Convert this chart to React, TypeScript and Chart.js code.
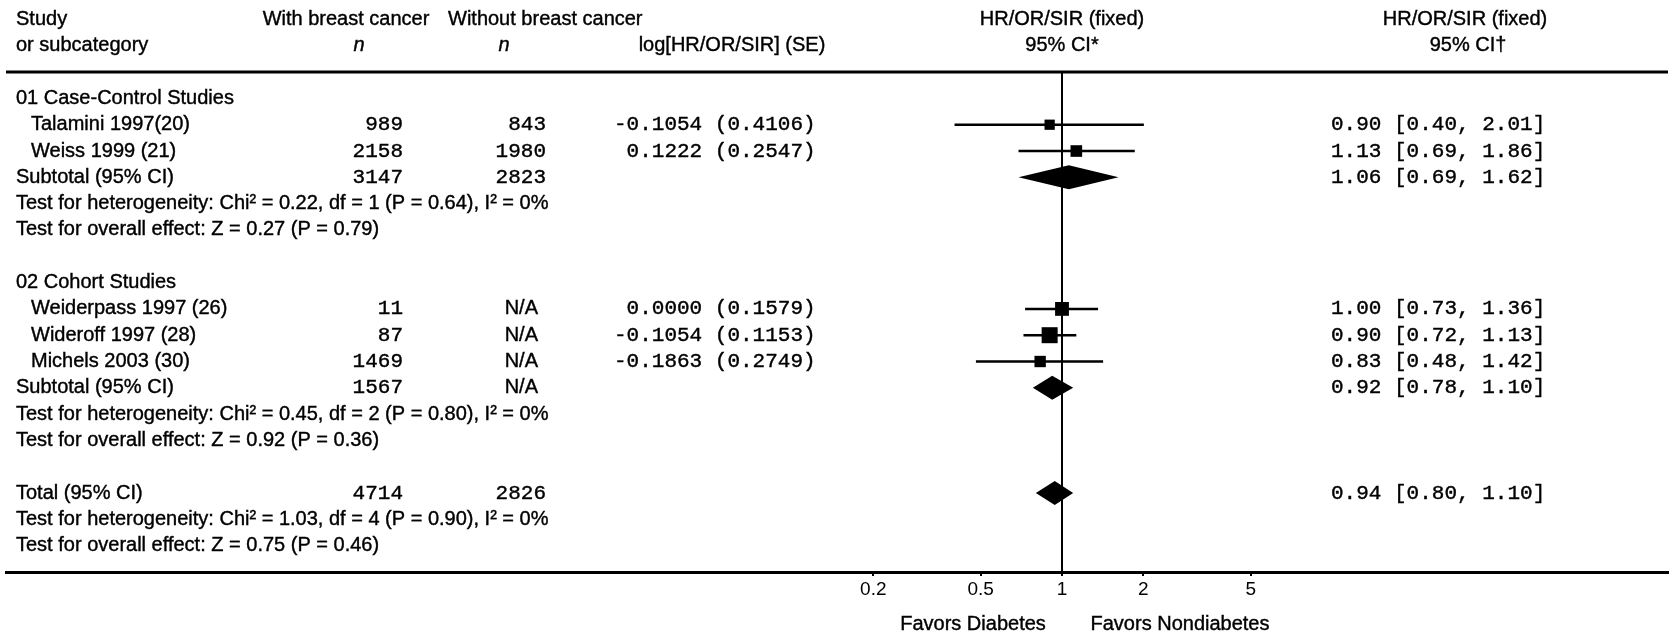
import { useEffect, useRef } from 'react';
import { Chart, registerables } from 'chart.js';

Chart.register(...registerables);

// ---------- data ----------
const studyNames = ['Talamini 1997(20)', 'Weiss 1999 (21)', 'Weiderpass 1997 (26)', 'Wideroff 1997 (28)', 'Michels 2003 (30)'];
const studyRows = [1, 2, 8, 9, 10];
const studyNWith = ['989', '2158', '11', '87', '1469'];
const studyNWithout = ['843', '1980', 'N/A', 'N/A', 'N/A'];
const studyLogEffect = [-0.1054, 0.1222, 0.0, -0.1054, -0.1863];
const studyLogSE = [0.4106, 0.2547, 0.1579, 0.1153, 0.2749];
const studyRatio = [0.9, 1.13, 1.0, 0.9, 0.83];
const studyLow = [0.4, 0.69, 0.73, 0.72, 0.48];
const studyHigh = [2.01, 1.86, 1.36, 1.13, 1.42];

const pooledLabels = ['Subtotal (95% CI)', 'Subtotal (95% CI)', 'Total (95% CI)'];
const pooledRows = [3, 11, 15];
const pooledNWith = ['3147', '1567', '4714'];
const pooledNWithout = ['2823', 'N/A', '2826'];
const pooledRatio = [1.06, 0.92, 0.94];
const pooledLow = [0.69, 0.78, 0.8];
const pooledHigh = [1.62, 1.1, 1.1];

const groupTitles = ['01 Case-Control Studies', '02 Cohort Studies'];
const groupRows = [0, 7];

const testLines = [
  'Test for heterogeneity: Chi\u00B2 = 0.22, df = 1 (P = 0.64), I\u00B2 = 0%',
  'Test for overall effect: Z = 0.27 (P = 0.79)',
  'Test for heterogeneity: Chi\u00B2 = 0.45, df = 2 (P = 0.80), I\u00B2 = 0%',
  'Test for overall effect: Z = 0.92 (P = 0.36)',
  'Test for heterogeneity: Chi\u00B2 = 1.03, df = 4 (P = 0.90), I\u00B2 = 0%',
  'Test for overall effect: Z = 0.75 (P = 0.46)',
];
const testRows = [4, 5, 12, 13, 16, 17];

const xTicks = [0.2, 0.5, 1, 2, 5];
const favorLabels = ['Favors Diabetes', 'Favors Nondiabetes'];

// ---------- layout constants ----------
const W = 1670;
const H = 635;
const AREA_LEFT = 6;
const AREA_RIGHT = 1668;
const PX_ONE = 1062;
const PX_PER_DECADE = 270;
const X_MIN = Math.pow(10, (AREA_LEFT - PX_ONE) / PX_PER_DECADE);
const X_MAX = Math.pow(10, (AREA_RIGHT - PX_ONE) / PX_PER_DECADE);
const Y_MIN = -3.74;
const Y_MAX = 18;

const SANS = '"Liberation Sans", Arial, sans-serif';
const MONO = '"Liberation Mono", "Courier New", monospace';
const SANS_FONT = `20px ${SANS}`;
const ITALIC_FONT = `italic 20px ${SANS}`;
const MONO_FONT = `21px ${MONO}`;

const fmtLog = (e: number, se: number) => (e < 0 ? '' : ' ') + e.toFixed(4) + ' (' + se.toFixed(4) + ')';
const fmtCI = (r: number, l: number, h: number) => `${r.toFixed(2)} [${l.toFixed(2)}, ${h.toFixed(2)}]`;

const weights = studyLogSE.map((s) => 1 / (s * s));
const maxWeight = Math.max(...weights);
const boxSide = weights.map((w) => 8 + 8 * Math.sqrt(w / maxWeight));

const forestPlugin = {
  id: 'forestPlugin',
  beforeDatasetsDraw(chart: any) {
    const { ctx, chartArea, scales } = chart;
    const x = scales.x;
    const y = scales.y;
    ctx.save();
    ctx.strokeStyle = '#000';
    // top rule
    ctx.lineWidth = 3;
    const yTop = y.getPixelForValue(-1);
    ctx.beginPath();
    ctx.moveTo(chartArea.left, yTop);
    ctx.lineTo(chartArea.right, yTop);
    ctx.stroke();
    // line of no effect
    ctx.lineWidth = 2;
    const x1 = Math.round(x.getPixelForValue(1));
    ctx.beginPath();
    ctx.moveTo(x1, yTop);
    ctx.lineTo(x1, chartArea.bottom);
    ctx.stroke();
    ctx.restore();
  },
  afterDatasetsDraw(chart: any) {
    const { ctx, scales } = chart;
    const x = scales.x;
    const y = scales.y;
    ctx.save();
    ctx.fillStyle = '#000';
    pooledRows.forEach((r, i) => {
      const yc = y.getPixelForValue(r);
      const xl = x.getPixelForValue(pooledLow[i]);
      const xm = x.getPixelForValue(pooledRatio[i]);
      const xh = x.getPixelForValue(pooledHigh[i]);
      ctx.beginPath();
      ctx.moveTo(xl, yc);
      ctx.lineTo(xm, yc - 12);
      ctx.lineTo(xh, yc);
      ctx.lineTo(xm, yc + 12);
      ctx.closePath();
      ctx.fill();
    });
    ctx.restore();
  },
  afterDraw(chart: any) {
    const { ctx, scales } = chart;
    const y = scales.y;
    const x = scales.x;
    const py = (r: number) => y.getPixelForValue(r);
    const text = (s: string, px: number, r: number, align: CanvasTextAlign, font: string) => {
      ctx.font = font;
      ctx.textAlign = align;
      ctx.fillText(s, px, py(r));
      ctx.strokeText(s, px, py(r));
    };
    ctx.save();
    ctx.fillStyle = '#000';
    ctx.strokeStyle = '#000';
    ctx.lineWidth = 0.4;
    ctx.textBaseline = 'middle';

    // headers
    text('Study', 16, -3, 'left', SANS_FONT);
    text('or subcategory', 16, -2, 'left', SANS_FONT);
    text('With breast cancer', 346, -3, 'center', SANS_FONT);
    text('n', 359, -2, 'center', ITALIC_FONT);
    text('Without breast cancer', 448, -3, 'left', SANS_FONT);
    text('n', 504, -2, 'center', ITALIC_FONT);
    text('log[HR/OR/SIR] (SE)', 732, -2, 'center', SANS_FONT);
    text('HR/OR/SIR (fixed)', 1062, -3, 'center', SANS_FONT);
    text('95% CI*', 1062, -2, 'center', SANS_FONT);
    text('HR/OR/SIR (fixed)', 1465, -3, 'center', SANS_FONT);
    text('95% CI\u2020', 1468, -2, 'center', SANS_FONT);

    groupTitles.forEach((t, i) => text(t, 16, groupRows[i], 'left', SANS_FONT));
    testLines.forEach((t, i) => text(t, 16, testRows[i], 'left', SANS_FONT));

    studyNames.forEach((name, i) => {
      const r = studyRows[i];
      text(name, 31, r, 'left', SANS_FONT);
      text(studyNWith[i], 403, r, 'right', MONO_FONT);
      if (studyNWithout[i] === 'N/A') text('N/A', 538, r, 'right', SANS_FONT);
      else text(studyNWithout[i], 546, r, 'right', MONO_FONT);
      text(fmtLog(studyLogEffect[i], studyLogSE[i]), 614, r, 'left', MONO_FONT);
      text(fmtCI(studyRatio[i], studyLow[i], studyHigh[i]), 1331, r, 'left', MONO_FONT);
    });

    pooledLabels.forEach((lab, i) => {
      const r = pooledRows[i];
      text(lab, 16, r, 'left', SANS_FONT);
      text(pooledNWith[i], 403, r, 'right', MONO_FONT);
      if (pooledNWithout[i] === 'N/A') text('N/A', 538, r, 'right', SANS_FONT);
      else text(pooledNWithout[i], 546, r, 'right', MONO_FONT);
      text(fmtCI(pooledRatio[i], pooledLow[i], pooledHigh[i]), 1331, r, 'left', MONO_FONT);
    });

    // favours labels below axis
    const x1 = x.getPixelForValue(1);
    ctx.font = SANS_FONT;
    ctx.textAlign = 'center';
    ctx.fillText(favorLabels[0], x1 - 89, 624);
    ctx.strokeText(favorLabels[0], x1 - 89, 624);
    ctx.fillText(favorLabels[1], x1 + 118, 624);
    ctx.strokeText(favorLabels[1], x1 + 118, 624);
    ctx.restore();
  },
};

export default function App() {
  const canvasRef = useRef<HTMLCanvasElement | null>(null);

  useEffect(() => {
    if (!canvasRef.current) return;
    Chart.defaults.font.family = SANS;

    const whiskers = studyRows.map((r, i) => ({
      type: 'scatter' as const,
      data: [
        { x: studyLow[i], y: r },
        { x: studyHigh[i], y: r },
      ],
      showLine: true,
      borderColor: '#000',
      borderWidth: 2.5,
      pointRadius: 0,
      order: 2,
    }));

    const boxes = {
      type: 'scatter' as const,
      data: studyRows.map((r, i) => ({ x: studyRatio[i], y: r })),
      pointStyle: 'rect',
      pointRadius: boxSide.map((s) => s / (2 * Math.SQRT1_2)),
      backgroundColor: '#000',
      borderColor: '#000',
      borderWidth: 0,
      order: 1,
    };

    const chart = new Chart(canvasRef.current, {
      type: 'scatter',
      data: { datasets: [...whiskers, boxes] as any },
      options: {
        animation: false,
        responsive: false,
        devicePixelRatio: 1,
        events: [],
        layout: { autoPadding: false, padding: { left: AREA_LEFT, right: W - AREA_RIGHT, top: 0, bottom: 0 } },
        plugins: { legend: { display: false }, tooltip: { enabled: false } },
        scales: {
          x: {
            type: 'logarithmic',
            min: X_MIN,
            max: X_MAX,
            afterBuildTicks: (s: any) => {
              s.ticks = xTicks.map((v) => ({ value: v }));
            },
            afterFit: (s: any) => {
              s.height = 63;
            },
            grid: { display: true, drawOnChartArea: false, drawTicks: true, tickLength: 4, color: '#000', lineWidth: 2 },
            border: { display: true, color: '#000', width: 3 },
            ticks: {
              callback: (v: any) => String(v),
              font: { family: SANS, size: 19 },
              color: '#000',
              padding: 2,
              maxRotation: 0,
              autoSkip: false,
            },
          },
          y: {
            type: 'linear',
            reverse: true,
            min: Y_MIN,
            max: Y_MAX,
            display: false,
          },
        },
      },
      plugins: [forestPlugin],
    });

    return () => chart.destroy();
  }, []);

  return (
    <div style={{ position: 'absolute', left: 0, top: 0, width: W, height: H, background: '#fff' }}>
      <canvas ref={canvasRef} width={W} height={H} style={{ display: 'block' }} />
    </div>
  );
}
